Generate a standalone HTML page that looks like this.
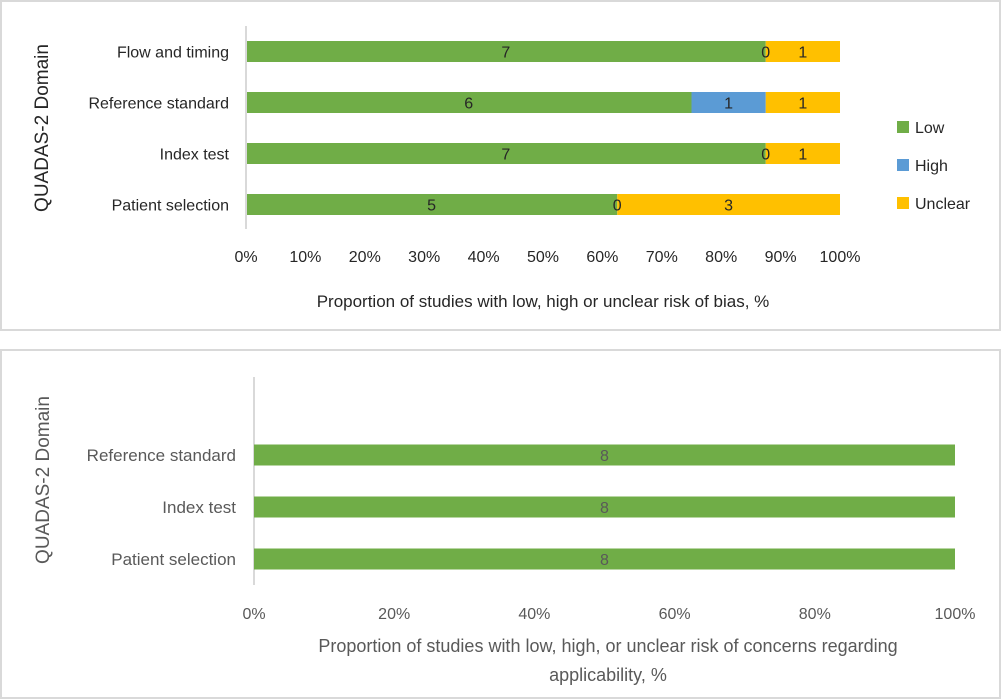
<!DOCTYPE html>
<html><head><meta charset="utf-8"><style>
html,body{margin:0;padding:0;background:#fff;}
svg{display:block;font-family:"Liberation Sans",sans-serif;}
</style></head><body>
<svg id="c" width="1002" height="700" xmlns="http://www.w3.org/2000/svg">
<rect x="1" y="1" width="999" height="329" fill="#fff" stroke="#d9d9d9" stroke-width="2"/>
<rect x="1" y="350" width="999" height="348" fill="#fff" stroke="#d9d9d9" stroke-width="2"/>
<g id="top"><g id="topbars"></g><g id="toplabels"></g></g><g id="bot"></g>
</svg>
<script>
const topCategories = ["Flow and timing","Reference standard","Index test","Patient selection"];
const topLow = [7,6,7,5];
const topHigh = [0,1,0,0];
const topUnclear = [1,1,1,3];
const topTicks = ["0%","10%","20%","30%","40%","50%","60%","70%","80%","90%","100%"];
const botCategories = ["Reference standard","Index test","Patient selection"];
const botLow = [8,8,8];
const botTicks = ["0%","20%","40%","60%","80%","100%"];
const colors = {low:"#70ad47", high:"#5b9bd5", unclear:"#ffc000"};
const NS="http://www.w3.org/2000/svg";
function mk(parent,tag,attrs,text){const e=document.createElementNS(NS,tag);for(const k in attrs)e.setAttribute(k,attrs[k]);if(text!==undefined)e.textContent=text;parent.appendChild(e);return e;}

// TOP CHART
const gt=document.getElementById('top');
const gbars=document.getElementById('topbars');
const glabels=document.getElementById('toplabels');
const tx0=246,tx1=840;
const txScale=p=>tx0+(tx1-tx0)*p;
const tyCenter=i=>51.5+i*51;
const tBarH=21;
let ax=mk(gt,'line',{x1:tx0,y1:26,x2:tx0,y2:229,stroke:'#d9d9d9','stroke-width':2});

topCategories.forEach((c,i)=>{
  const tot=topLow[i]+topHigh[i]+topUnclear[i];
  const segs=[[topLow[i],colors.low,'low'],[topHigh[i],colors.high,'high'],[topUnclear[i],colors.unclear,'unclear']];
  let acc=0;
  const y=tyCenter(i);
  segs.forEach(s=>{
    const xa=txScale(acc/tot), xb=txScale((acc+s[0])/tot);
    const r=mk(gbars,'rect',{x:xa,y:y-tBarH/2,width:Math.max(0,xb-xa),height:tBarH,fill:s[1]});
    
    const t=mk(glabels,'text',{x:(xa+xb)/2,y:y+6,'text-anchor':'middle','font-size':16,fill:'#262626'},String(s[0]));
    
    acc+=s[0];
  });
  const l=mk(gt,'text',{x:229,y:y+6,'text-anchor':'end','font-size':16,fill:'#262626'},c);
  
});
topTicks.forEach((t,i)=>{
  const e=mk(gt,'text',{x:txScale(i/(topTicks.length-1)),y:262,'text-anchor':'middle','font-size':16,fill:'#262626'},t);
  
});
let xt=mk(gt,'text',{x:543,y:307,'text-anchor':'middle','font-size':17,fill:'#262626'},'Proportion of studies with low, high or unclear risk of bias, %');

let yt=mk(gt,'text',{x:0,y:0,'text-anchor':'middle','font-size':19,fill:'#262626',transform:'translate(48,128) rotate(-90)'},'QUADAS-2 Domain');

[['Low',colors.low,127],['High',colors.high,165],['Unclear',colors.unclear,203]].forEach(l=>{
  const g=mk(gt,'g',{});
  
  mk(g,'rect',{x:897,y:l[2]-6,width:12,height:12,fill:l[1]});
  mk(g,'text',{x:915,y:l[2]+6,'font-size':16,fill:'#262626'},l[0]);
});

// BOTTOM CHART
const gb=document.getElementById('bot');
const bx0=254,bx1=955;
const bxScale=p=>bx0+(bx1-bx0)*p;
const byCenter=i=>455+i*52;
const bBarH=21;
let bax=mk(gb,'line',{x1:bx0,y1:377,x2:bx0,y2:585,stroke:'#d9d9d9','stroke-width':2});

botCategories.forEach((c,i)=>{
  const y=byCenter(i);
  const tot=botLow[i];
  const xa=bxScale(0), xb=bxScale(botLow[i]/tot);
  const r=mk(gb,'rect',{x:xa,y:y-bBarH/2,width:xb-xa,height:bBarH,fill:colors.low});
  
  const t=mk(gb,'text',{x:(xa+xb)/2,y:y+6,'text-anchor':'middle','font-size':16,fill:'#595959'},String(botLow[i]));
  
  const l=mk(gb,'text',{x:236,y:y+6,'text-anchor':'end','font-size':17,fill:'#595959'},c);
  
});
botTicks.forEach((t,i)=>{
  const e=mk(gb,'text',{x:bxScale(i/(botTicks.length-1)),y:619,'text-anchor':'middle','font-size':16,fill:'#595959'},t);
  
});
let bxt1=mk(gb,'text',{x:608,y:652,'text-anchor':'middle','font-size':18,fill:'#595959'},'Proportion of studies with low, high, or unclear risk of concerns regarding');

let bxt2=mk(gb,'text',{x:608,y:681,'text-anchor':'middle','font-size':18,fill:'#595959'},'applicability, %');

let byt=mk(gb,'text',{x:0,y:0,'text-anchor':'middle','font-size':19,fill:'#595959',transform:'translate(49,480) rotate(-90)'},'QUADAS-2 Domain');

</script>
</body></html>
